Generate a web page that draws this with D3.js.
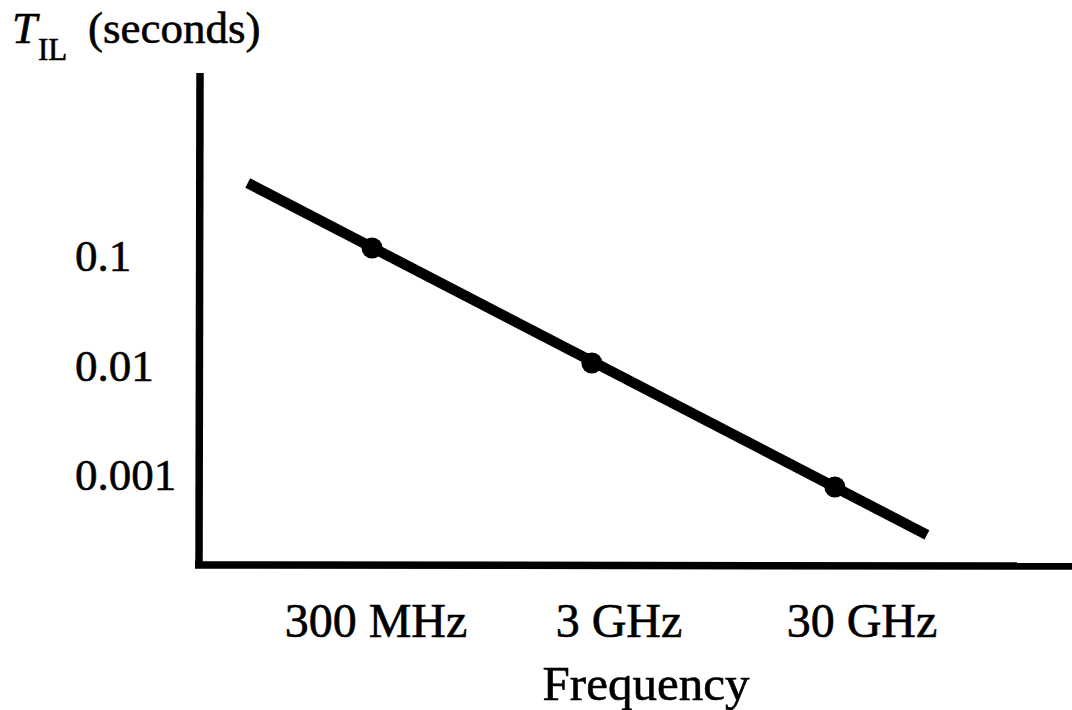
<!DOCTYPE html>
<html>
<head>
<meta charset="utf-8">
<script src="https://cdn.jsdelivr.net/npm/d3@7"></script>
<style>
  html, body { margin: 0; padding: 0; background: #fff; }
  svg { display: block; }
  text { font-family: "Liberation Serif", "Times New Roman", serif; fill: #000; stroke: #000; stroke-width: 0.6px; }
</style>
</head>
<body>
<svg id="chart" width="1072" height="710"></svg>
<script>
// Insertion-loss time constant vs. frequency (log–log sketch)
const xTickValues = [3e8, 3e9, 3e10];
const xTickLabels = ["300 MHz", "3 GHz", "30 GHz"];
const yTickValues = [0.1, 0.01, 0.001];
const yTickLabels = ["0.1", "0.01", "0.001"];

// Marked points (Hz, seconds)
const pointFreq = [2.89e8, 2.32e9, 2.32e10];
const pointT = [0.1183, 0.01054, 0.000777];

// Ends of the trend line (Hz, seconds)
const lineFreq = [8.9e7, 5.55e10];
const lineT = [0.464, 0.000284];

const svg = d3.select("#chart");
svg.append("rect").attr("width", 1072).attr("height", 710).attr("fill", "#fff");

// Frame
const axisX = 200, axisTop = 73, axisBottom = 565, axisRight = 1072;

const x = d3.scaleLog().domain([3e8, 3e10]).range([376, 862]);
const y = d3.scaleLog().domain([0.001, 0.1]).range([475, 256]);

// Axes: heavy lines without tick marks
svg.append("line")
  .attr("x1", axisX).attr("y1", axisTop)
  .attr("x2", axisX - 1).attr("y2", axisBottom + 3)
  .attr("stroke", "#000").attr("stroke-width", 7.5);
svg.append("line")
  .attr("x1", axisX - 5).attr("y1", axisBottom)
  .attr("x2", axisRight).attr("y2", axisBottom + 1)
  .attr("stroke", "#000").attr("stroke-width", 7.5);

// Y tick labels (left aligned)
svg.append("g").selectAll("text")
  .data(yTickValues)
  .join("text")
  .attr("x", 75)
  .attr("y", d => y(d))
  .attr("dy", "0.34em")
  .attr("font-size", 45)
  .text((d, i) => yTickLabels[i]);

// X tick labels
svg.append("g").selectAll("text")
  .data(xTickValues)
  .join("text")
  .attr("x", d => x(d))
  .attr("y", 637)
  .attr("text-anchor", "middle")
  .attr("font-size", 48)
  .text((d, i) => xTickLabels[i]);

// Axis titles
svg.append("text")
  .attr("x", 646).attr("y", 700)
  .attr("text-anchor", "middle")
  .attr("font-size", 49)
  .text("Frequency");

const yTitle = svg.append("text").attr("font-size", 45);
yTitle.append("tspan").attr("x", 12).attr("y", 43).attr("font-style", "italic").text("T");
yTitle.append("tspan").attr("x", 38).attr("y", 60).attr("font-size", 31).text("IL");
yTitle.append("tspan").attr("x", 88).attr("y", 43).text("(seconds)");

// Trend line
const lineData = lineFreq.map((f, i) => [f, lineT[i]]);
svg.append("path")
  .datum(lineData)
  .attr("d", d3.line().x(d => x(d[0])).y(d => y(d[1])))
  .attr("fill", "none")
  .attr("stroke", "#000")
  .attr("stroke-width", 10.5)
  .attr("stroke-linecap", "butt");

// Marked points
svg.append("g").selectAll("circle")
  .data(pointFreq.map((f, i) => [f, pointT[i]]))
  .join("circle")
  .attr("cx", d => x(d[0]))
  .attr("cy", d => y(d[1]))
  .attr("r", 10.5)
  .attr("fill", "#000");
</script>
</body>
</html>
